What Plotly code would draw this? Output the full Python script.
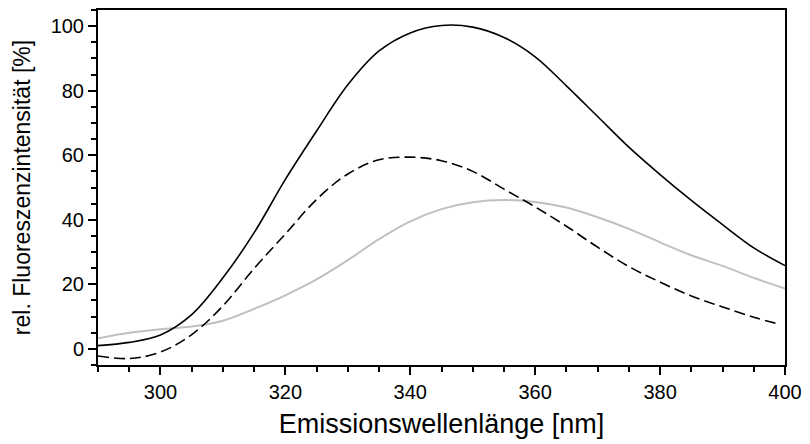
import plotly.graph_objects as go

wavelength = [290, 295, 300, 305, 310, 315, 320, 325, 330, 335, 340, 345,
              350, 355, 360, 365, 370, 375, 380, 385, 390, 395, 400]
solid_vals = [1.0, 2.0, 4.3, 10.6, 22.0, 36.0, 52.5, 67.5, 81.8, 92.3, 97.9, 100.2,
              99.7, 96.5, 90.5, 81.5, 72.0, 62.5, 54.0, 46.0, 38.5, 31.3, 25.8]
gray_vals = [3.3, 5.0, 6.1, 6.9, 8.7, 12.4, 16.6, 21.5, 27.5, 34.0, 39.5, 43.3,
             45.4, 46.1, 45.5, 43.8, 40.8, 37.2, 33.0, 29.0, 25.7, 22.0, 18.7]
dashed_wl = [290, 295, 300, 305, 310, 315, 320, 325, 330, 335, 340, 345,
             350, 355, 360, 365, 370, 375, 380, 385, 390, 395, 399]
dashed_vals = [-2.2, -3.0, -1.0, 4.4, 13.3, 24.9, 35.6, 46.3, 54.2, 58.6, 59.4, 58.3,
               55.0, 49.5, 44.0, 38.0, 31.5, 25.5, 20.7, 16.4, 13.0, 9.8, 7.7]

x_ticks = [300, 320, 340, 360, 380, 400]
y_ticks = [0, 20, 40, 60, 80, 100]

fig = go.Figure()
fig.add_trace(go.Scatter(x=wavelength, y=gray_vals, mode="lines",
                         line=dict(color="#c0c0c0", width=2, shape="spline"),
                         showlegend=False))
fig.add_trace(go.Scatter(x=dashed_wl, y=dashed_vals, mode="lines",
                         line=dict(color="black", width=1.6, shape="spline", dash="11px,5px"),
                         showlegend=False))
fig.add_trace(go.Scatter(x=wavelength, y=solid_vals, mode="lines",
                         line=dict(color="black", width=1.6, shape="spline"),
                         showlegend=False))

font_family = "Liberation Sans, Arial, sans-serif"
fig.update_layout(
    width=810, height=444,
    margin=dict(l=98, r=19, t=8, b=79),
    paper_bgcolor="white", plot_bgcolor="white",
    font=dict(family=font_family, color="black"),
    xaxis=dict(range=[290, 400], tickvals=x_ticks, ticktext=[str(v) for v in x_ticks],
               showline=True, linecolor="black", linewidth=2, mirror=True,
               ticks="outside", ticklen=8, tickwidth=2, tickcolor="black",
               minor=dict(ticks="outside", dtick=5, tick0=0, ticklen=5, tickwidth=2, tickcolor="black"),
               showgrid=False, zeroline=False, tickfont=dict(size=20),
               title=dict(text="Emissionswellenlänge [nm]", font=dict(size=27), standoff=12)),
    yaxis=dict(range=[-5, 105], tickvals=y_ticks, ticktext=[str(v) for v in y_ticks],
               showline=True, linecolor="black", linewidth=2, mirror=True,
               ticks="outside", ticklen=8, tickwidth=2, tickcolor="black",
               minor=dict(ticks="outside", dtick=5, tick0=0, ticklen=5, tickwidth=2, tickcolor="black"),
               showgrid=False, zeroline=False, tickfont=dict(size=20),
               title=dict(text="rel. Fluoreszenzintensität [%]", font=dict(size=23), standoff=14)),
)

fig.write_html("out.html")
